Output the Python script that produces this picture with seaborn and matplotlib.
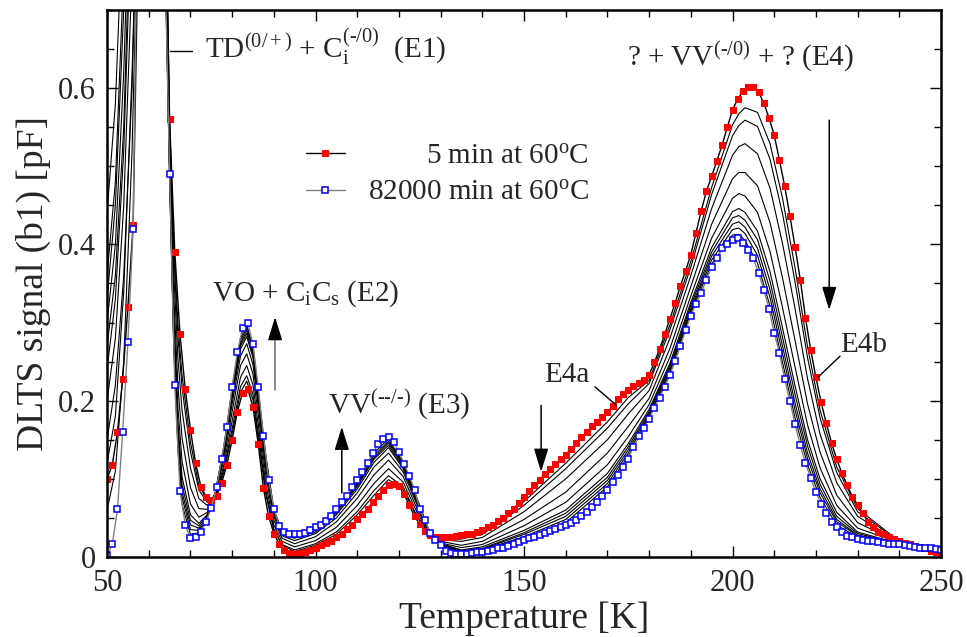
import numpy as np
import pandas as pd
import seaborn as sns
import matplotlib.pyplot as plt
from matplotlib.ticker import MultipleLocator, FuncFormatter

sns.set_style('ticks')
plt.rcParams['font.family'] = ['Liberation Serif', 'DejaVu Serif']
plt.rcParams['mathtext.fontset'] = 'custom'
plt.rcParams['mathtext.rm'] = 'Liberation Serif'
plt.rcParams['mathtext.it'] = 'Liberation Serif:italic'
plt.rcParams['mathtext.bf'] = 'Liberation Serif:bold'

# DLTS signal, 50 K .. 250 K in 1.25 K steps (values > 0.7 are off scale)
red_5min = [
    0.100, 0.118, 0.160, 0.228, 0.320, 0.425, 0.800, 1.000,
    1.150, 1.400, 1.350, 0.950, 0.560, 0.390, 0.285, 0.215,
    0.163, 0.120, 0.090, 0.077, 0.073, 0.078, 0.095, 0.118,
    0.150, 0.186, 0.210, 0.215, 0.192, 0.145, 0.088, 0.052,
    0.030, 0.017, 0.009, 0.005, 0.004, 0.005, 0.007, 0.009,
    0.012, 0.015, 0.018, 0.021, 0.025, 0.030, 0.036, 0.041,
    0.048, 0.055, 0.062, 0.070, 0.078, 0.086, 0.092, 0.094,
    0.091, 0.080, 0.066, 0.052, 0.042, 0.033, 0.028, 0.026,
    0.025, 0.025, 0.026, 0.027, 0.028, 0.029, 0.030, 0.032,
    0.034, 0.038, 0.041, 0.046, 0.050, 0.056, 0.062, 0.069,
    0.077, 0.084, 0.092, 0.099, 0.106, 0.113, 0.119, 0.125,
    0.131, 0.138, 0.146, 0.153, 0.160, 0.167, 0.173, 0.179,
    0.185, 0.193, 0.202, 0.208, 0.214, 0.219, 0.223, 0.227,
    0.233, 0.249, 0.266, 0.285, 0.305, 0.325, 0.347, 0.366,
    0.387, 0.415, 0.443, 0.468, 0.487, 0.507, 0.527, 0.550,
    0.572, 0.586, 0.596, 0.601, 0.601, 0.595, 0.581, 0.562,
    0.540, 0.508, 0.475, 0.437, 0.397, 0.355, 0.306, 0.265,
    0.230, 0.198, 0.171, 0.146, 0.125, 0.107, 0.092, 0.077,
    0.067, 0.056, 0.045, 0.038, 0.032, 0.029, 0.026, 0.023,
    0.021, 0.018, 0.016, 0.014, 0.013, 0.011, 0.008, 0.006,
    0.005,
]
blue_82000min = [
    0.003, 0.016, 0.061, 0.160, 0.275, 0.420, 0.950, 1.100,
    1.200, 1.420, 1.300, 0.800, 0.490, 0.220, 0.085, 0.041,
    0.024, 0.025, 0.032, 0.045, 0.063, 0.089, 0.126, 0.166,
    0.218, 0.262, 0.293, 0.300, 0.272, 0.218, 0.155, 0.099,
    0.062, 0.040, 0.032, 0.029, 0.029, 0.029, 0.031, 0.034,
    0.038, 0.041, 0.046, 0.053, 0.062, 0.070, 0.078, 0.089,
    0.098, 0.109, 0.120, 0.133, 0.144, 0.151, 0.153, 0.147,
    0.135, 0.119, 0.104, 0.086, 0.061, 0.047, 0.031, 0.022,
    0.015, 0.008, 0.005, 0.004, 0.004, 0.004, 0.005, 0.006,
    0.007, 0.008, 0.009, 0.011, 0.012, 0.014, 0.016, 0.019,
    0.022, 0.024, 0.026, 0.028, 0.031, 0.033, 0.036, 0.038,
    0.041, 0.044, 0.047, 0.052, 0.058, 0.064, 0.071, 0.078,
    0.086, 0.096, 0.105, 0.115, 0.126, 0.141, 0.155, 0.165,
    0.177, 0.191, 0.204, 0.218, 0.233, 0.251, 0.270, 0.290,
    0.309, 0.324, 0.338, 0.355, 0.371, 0.383, 0.395, 0.401,
    0.406, 0.408, 0.402, 0.393, 0.382, 0.364, 0.342, 0.318,
    0.287, 0.261, 0.228, 0.200, 0.170, 0.143, 0.120, 0.101,
    0.083, 0.068, 0.056, 0.045, 0.038, 0.032, 0.027, 0.025,
    0.023, 0.022, 0.021, 0.020, 0.019, 0.018, 0.017, 0.016,
    0.016, 0.015, 0.014, 0.013, 0.012, 0.012, 0.011, 0.010,
    0.009,
]

# intermediate annealing times (thin black lines), one row per temperature
knot_temps = [50, 52, 54, 56, 58, 64, 65, 66, 67, 68, 70, 72, 74, 76, 78, 80,
              82, 83.5, 85, 86.5, 88, 90, 92, 95, 100, 105, 110, 114, 117.5,
              121, 124, 127, 130, 135, 140, 150, 160, 170, 175, 180, 185, 190,
              195, 200, 201.5, 203, 206, 209, 212, 215, 218, 221, 225, 230,
              240, 250]
black_rows = [
    [0.15, 0.20, 0.27, 0.33, 0.44, 0.36, 0.30, 0.24, 0.12, 0.06],
    [0.22, 0.28, 0.36, 0.45, 0.58, 0.48, 0.40, 0.33, 0.18, 0.11],
    [0.36, 0.45, 0.55, 0.70, 0.85, 0.75, 0.62, 0.52, 0.34, 0.25],
    [0.60, 0.75, 0.90, 1.05, 1.20, 1.10, 0.95, 0.85, 0.62, 0.52],
    [1.00, 1.10, 1.20, 1.30, 1.40, 1.30, 1.25, 1.20, 1.00, 0.95],
    [0.855, 0.844, 0.825, 0.800, 0.780, 0.770, 0.760, 0.756, 0.750, 0.745],
    [0.559, 0.552, 0.538, 0.522, 0.509, 0.499, 0.495, 0.491, 0.487, 0.483],
    [0.401, 0.388, 0.364, 0.335, 0.311, 0.294, 0.287, 0.279, 0.273, 0.266],
    [0.298, 0.282, 0.254, 0.219, 0.191, 0.171, 0.162, 0.153, 0.145, 0.137],
    [0.232, 0.216, 0.187, 0.152, 0.122, 0.102, 0.092, 0.083, 0.076, 0.067],
    [0.147, 0.135, 0.114, 0.089, 0.068, 0.054, 0.047, 0.041, 0.035, 0.029],
    [0.092, 0.086, 0.075, 0.062, 0.051, 0.043, 0.040, 0.037, 0.034, 0.031],
    [0.073, 0.070, 0.066, 0.061, 0.057, 0.054, 0.053, 0.051, 0.050, 0.049],
    [0.078, 0.078, 0.079, 0.081, 0.082, 0.083, 0.083, 0.083, 0.083, 0.084],
    [0.108, 0.112, 0.117, 0.124, 0.130, 0.134, 0.136, 0.137, 0.139, 0.141],
    [0.158, 0.164, 0.174, 0.186, 0.196, 0.203, 0.207, 0.210, 0.213, 0.216],
    [0.211, 0.218, 0.230, 0.245, 0.257, 0.266, 0.270, 0.273, 0.277, 0.280],
    [0.225, 0.232, 0.245, 0.260, 0.273, 0.282, 0.286, 0.290, 0.293, 0.297],
    [0.201, 0.208, 0.220, 0.234, 0.246, 0.255, 0.259, 0.262, 0.266, 0.269],
    [0.143, 0.149, 0.160, 0.172, 0.183, 0.190, 0.193, 0.197, 0.199, 0.202],
    [0.082, 0.087, 0.096, 0.107, 0.116, 0.122, 0.125, 0.128, 0.130, 0.133],
    [0.034, 0.036, 0.041, 0.047, 0.052, 0.055, 0.057, 0.058, 0.059, 0.061],
    [0.015, 0.016, 0.020, 0.024, 0.027, 0.029, 0.030, 0.031, 0.032, 0.033],
    [0.007, 0.009, 0.013, 0.017, 0.021, 0.024, 0.025, 0.026, 0.027, 0.028],
    [0.015, 0.017, 0.021, 0.026, 0.030, 0.032, 0.034, 0.035, 0.036, 0.037],
    [0.029, 0.032, 0.038, 0.045, 0.050, 0.054, 0.056, 0.058, 0.059, 0.061],
    [0.054, 0.058, 0.066, 0.075, 0.082, 0.087, 0.090, 0.092, 0.094, 0.096],
    [0.079, 0.085, 0.094, 0.105, 0.115, 0.121, 0.125, 0.127, 0.130, 0.133],
    [0.099, 0.104, 0.113, 0.124, 0.133, 0.140, 0.143, 0.146, 0.148, 0.151],
    [0.087, 0.090, 0.096, 0.103, 0.109, 0.113, 0.115, 0.117, 0.119, 0.121],
    [0.054, 0.056, 0.061, 0.066, 0.071, 0.074, 0.076, 0.077, 0.079, 0.080],
    [0.031, 0.031, 0.032, 0.034, 0.035, 0.035, 0.036, 0.036, 0.036, 0.037],
    [0.024, 0.023, 0.022, 0.020, 0.018, 0.017, 0.017, 0.016, 0.016, 0.015],
    [0.025, 0.023, 0.020, 0.015, 0.012, 0.009, 0.008, 0.007, 0.006, 0.005],
    [0.031, 0.029, 0.025, 0.020, 0.016, 0.013, 0.011, 0.010, 0.009, 0.008],
    [0.071, 0.066, 0.058, 0.048, 0.040, 0.034, 0.031, 0.029, 0.026, 0.024],
    [0.120, 0.113, 0.100, 0.083, 0.070, 0.060, 0.056, 0.052, 0.048, 0.044],
    [0.173, 0.165, 0.150, 0.133, 0.118, 0.107, 0.102, 0.098, 0.094, 0.090],
    [0.204, 0.196, 0.183, 0.167, 0.154, 0.145, 0.141, 0.137, 0.133, 0.129],
    [0.226, 0.222, 0.213, 0.203, 0.195, 0.189, 0.186, 0.184, 0.181, 0.179],
    [0.297, 0.291, 0.280, 0.267, 0.256, 0.248, 0.245, 0.242, 0.239, 0.236],
    [0.378, 0.371, 0.360, 0.346, 0.334, 0.326, 0.322, 0.318, 0.315, 0.312],
    [0.473, 0.464, 0.446, 0.426, 0.408, 0.396, 0.390, 0.385, 0.380, 0.375],
    [0.553, 0.539, 0.514, 0.484, 0.459, 0.442, 0.434, 0.426, 0.419, 0.412],
    [0.567, 0.552, 0.525, 0.492, 0.465, 0.446, 0.437, 0.429, 0.421, 0.413],
    [0.575, 0.559, 0.529, 0.492, 0.462, 0.441, 0.431, 0.422, 0.414, 0.405],
    [0.569, 0.551, 0.516, 0.475, 0.441, 0.417, 0.406, 0.395, 0.386, 0.376],
    [0.529, 0.509, 0.472, 0.428, 0.391, 0.365, 0.353, 0.342, 0.332, 0.321],
    [0.459, 0.439, 0.401, 0.357, 0.319, 0.293, 0.281, 0.270, 0.260, 0.249],
    [0.370, 0.352, 0.318, 0.277, 0.243, 0.219, 0.208, 0.197, 0.188, 0.178],
    [0.269, 0.255, 0.228, 0.196, 0.169, 0.150, 0.142, 0.133, 0.126, 0.118],
    [0.188, 0.178, 0.157, 0.134, 0.114, 0.100, 0.093, 0.087, 0.082, 0.076],
    [0.115, 0.108, 0.095, 0.079, 0.066, 0.057, 0.052, 0.048, 0.045, 0.041],
    [0.062, 0.058, 0.052, 0.044, 0.037, 0.032, 0.030, 0.028, 0.027, 0.025],
    [0.020, 0.020, 0.019, 0.018, 0.018, 0.017, 0.017, 0.017, 0.016, 0.016],
    [0.005, 0.006, 0.006, 0.007, 0.008, 0.008, 0.008, 0.009, 0.009, 0.009],
]

labels = ['5 min at 60$^\\mathrm{o}$C', '82000 min at 60$^\\mathrm{o}$C']

temp = np.linspace(50, 250, len(red_5min))

fig = plt.figure(figsize=(9.67, 6.37), dpi=100)
ax = fig.add_axes([0.1107, 0.1256, 0.8624, 0.8587])

curves = np.array(black_rows).T
df = pd.DataFrame({
    'T': np.tile(knot_temps, len(curves)),
    'C': curves.ravel(),
    'run': np.repeat(np.arange(len(curves)), len(knot_temps)),
})
sns.lineplot(data=df, x='T', y='C', units='run', estimator=None,
             color='black', lw=0.8, ax=ax, legend=False)

sns.lineplot(x=temp, y=red_5min, color='black', lw=1.0, marker='s',
             markersize=5, markerfacecolor='red', markeredgecolor='red',
             ax=ax, legend=False)
red_line = ax.lines[-1]
sns.lineplot(x=temp, y=blue_82000min, color='gray', lw=1.0, marker='s',
             markersize=4.5, markerfacecolor='white', markeredgecolor='blue',
             markeredgewidth=1.1, ax=ax, legend=False)
blue_line = ax.lines[-1]

ax.set_xlim(50, 250)
ax.set_ylim(0, 0.7)
ax.xaxis.set_major_locator(MultipleLocator(50))
ax.xaxis.set_minor_locator(MultipleLocator(10))
ax.yaxis.set_major_locator(MultipleLocator(0.2))
ax.yaxis.set_minor_locator(MultipleLocator(0.05))
ax.yaxis.set_major_formatter(FuncFormatter(lambda v, _: '0' if v == 0 else f'{v:g}'))
ax.tick_params(which='both', direction='in', top=True, right=True, width=1.0, color='black')
ax.tick_params(which='major', length=8, labelsize=22)
ax.tick_params(axis='x', which='major', pad=9)
ax.tick_params(axis='y', which='major', pad=8)
ax.tick_params(which='minor', length=5)
for s in ax.spines.values():
    s.set_linewidth(1.8)
    s.set_color('black')

ax.set_xlabel('Temperature [K]', fontsize=27, labelpad=2)
ax.set_ylabel('DLTS signal (b1) [pF]', fontsize=27, labelpad=5)

leg = ax.legend(handles=[red_line, blue_line], labels=labels, loc='upper left',
                bbox_to_anchor=(0.238, 0.757), frameon=False, fontsize=21,
                handlelength=1.35, handletextpad=0.8, labelspacing=0.36,
                borderpad=0, borderaxespad=0)

# annotations
fs = 21
ax.text(73.5, 0.638, 'TD$^{(0/+)}$ + C$_\\mathrm{i}^{(\\text{-/0})}$  (E1)', fontsize=fs, va='baseline')
ax.plot([65.1, 70.3], [0.648, 0.648], color='black', lw=1.0)
ax.text(202.0, 0.629, '? + VV$^{(\\text{-/0})}$ + ? (E4)', fontsize=fs, ha='center', va='baseline')
ax.text(75.1, 0.3286, 'VO + C$_\\mathrm{i}$C$_\\mathrm{s}$ (E2)', fontsize=fs, va='baseline')
ax.text(103.0, 0.184, 'VV$^{(\\text{--/-})}$ (E3)', fontsize=fs, va='baseline')
ax.text(160.2, 0.2242, 'E4a', fontsize=fs, ha='center', va='baseline')
ax.plot([167.0, 172.1], [0.2178, 0.1944], color='black', lw=1.0)
ax.text(231.5, 0.2625, 'E4b', fontsize=fs, ha='center', va='baseline')
ax.plot([225.8, 220.6], [0.257, 0.2306], color='black', lw=1.0)

head = '-|>,head_length=0.55,head_width=0.17'
def arrow(x, y0, y1, color='black'):
    ax.annotate('', xy=(x, y1), xytext=(x, y0),
                arrowprops=dict(arrowstyle=head, mutation_scale=26, lw=1.1,
                                color=color, shrinkA=0, shrinkB=0))

ax.plot([90.3, 90.3], [0.2135, 0.285], color='gray', lw=1.3)
arrow(90.3, 0.282, 0.307)
arrow(106.3, 0.082, 0.1667)
arrow(154.1, 0.194, 0.109)
arrow(223.2, 0.559, 0.316)

# right-align legend texts
fig.canvas.draw()
renderer = fig.canvas.get_renderer()
widths = [t.get_window_extent(renderer).width for t in leg.get_texts()]
for t, w in zip(leg.get_texts(), widths):
    t.set_position((max(widths) - w, 0))

fig.savefig('out.png', dpi=100)
